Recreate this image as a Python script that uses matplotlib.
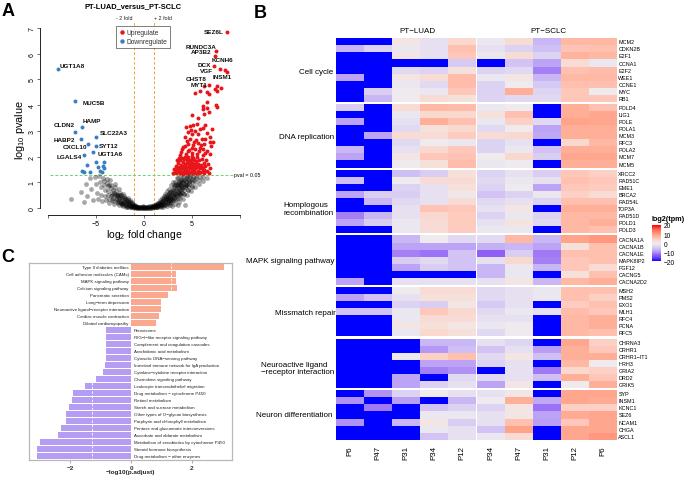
import numpy as np
import matplotlib
matplotlib.use('Agg')
import matplotlib.pyplot as plt
from matplotlib.colors import LinearSegmentedColormap, Normalize
from matplotlib.lines import Line2D
import matplotlib.colorbar as mcolorbar

plt.rcParams['font.family'] = ['Liberation Sans', 'DejaVu Sans']
plt.rcParams['mathtext.fontset'] = 'custom'
plt.rcParams['mathtext.rm'] = 'Liberation Sans'
plt.rcParams['mathtext.it'] = 'Liberation Sans:italic'
plt.rcParams['mathtext.bf'] = 'Liberation Sans:bold'

# ---------------- Panel A data (volcano) ----------------
gray_pts = [(-7.6,0.35),(-6.6,0.62),(-6.3,0.22),(-6.0,0.92),(-5.9,0.45),(-5.6,1.15),(-5.5,0.72),(-5.3,0.3),
    (-5.1,1.22),(-5.0,0.95),(-4.9,0.6),(-4.8,0.36),(-4.7,1.26),(-4.6,1.0),(-4.5,0.8),(-4.45,0.5),(-4.4,0.26),
    (-4.3,1.18),(-4.2,1.05),(-4.15,0.9),(-4.1,0.7),(-4.05,0.48),(-4.0,0.3),(-3.9,1.12),(-3.85,0.96),(-3.8,0.84),
    (-3.75,0.66),(-3.7,0.52),(-3.65,0.36),(-3.6,0.2),(-3.5,1.08),(-3.45,0.9),(-3.4,0.76),(-3.35,0.6),(-3.3,0.5),
    (-3.25,0.4),(-3.2,0.26),(-3.15,0.16),(-3.05,0.95),(-3.0,0.8),(-2.95,0.66),(-2.9,0.55),(-2.85,0.45),(-2.8,0.36),
    (-2.75,0.28),(-2.7,0.2),(-2.65,0.1),(-2.6,0.74),(-2.55,0.6),(-2.5,0.5),(-2.45,0.42),(-2.4,0.35),(-2.35,0.28),
    (-2.3,0.2),(-2.25,0.14),(-2.2,0.08),(-2.15,0.55),(-2.1,0.45),(-2.05,0.37),(-2.0,0.3),(-1.95,0.24),(-1.9,0.18),
    (-1.85,0.12),(-1.8,0.07),(-1.75,0.03),(-1.7,0.4),(-1.65,0.3),(-1.6,0.24),(-1.55,0.18),(-1.5,0.13),(-1.45,0.09),
    (-1.4,0.05),(-1.35,0.02),(-1.3,0.25),(-1.25,0.18),(-1.2,0.13),(-1.15,0.09),(-1.1,0.06),(-1.05,0.03),(-1.0,0.01),
    (-0.95,0.12),(-0.9,0.08),(-0.85,0.05),(-0.8,0.03),(-0.75,0.01),
    (-0.7,0.0),(-0.6,0.02),(-0.5,0.0),(-0.4,0.03),(-0.3,0.01),(-0.2,0.0),(-0.1,0.02),(0.0,0.01),(0.1,0.0),(0.2,0.03),
    (0.3,0.01),(0.4,0.0),(0.5,0.02),(0.6,0.01),(0.7,0.03),(0.8,0.0),(0.9,0.02),(1.0,0.04),(-0.65,0.05),(-0.25,0.05),
    (0.15,0.05),(0.55,0.06),(0.95,0.07),
    (1.1,0.02),(1.15,0.06),(1.2,0.1),(1.25,0.15),(1.3,0.04),(1.35,0.08),(1.4,0.13),(1.45,0.19),(1.5,0.05),(1.55,0.1),
    (1.6,0.16),(1.65,0.23),(1.7,0.3),(1.75,0.07),(1.8,0.13),(1.85,0.2),(1.9,0.27),(1.95,0.35),(2.0,0.05),(2.05,0.1),
    (2.1,0.17),(2.15,0.24),(2.2,0.32),(2.25,0.4),(2.3,0.48),(2.35,0.08),(2.4,0.15),(2.45,0.22),(2.5,0.3),(2.55,0.38),
    (2.6,0.46),(2.65,0.55),(2.7,0.64),(2.75,0.12),(2.8,0.2),(2.85,0.3),(2.9,0.4),(2.95,0.5),(3.0,0.6),(3.05,0.7),
    (3.1,0.8),(3.15,0.9),(3.2,0.16),(3.25,0.3),(3.3,0.45),(3.35,0.56),(3.4,0.66),(3.45,0.76),(3.5,0.86),(3.55,0.96),
    (3.6,1.06),(3.65,0.25),(3.7,0.4),(3.75,0.55),(3.8,0.7),(3.85,0.8),(3.9,0.9),(3.95,1.0),(4.0,1.1),(4.05,1.2),
    (4.1,0.36),(4.15,0.56),(4.2,0.7),(4.25,0.85),(4.3,0.95),(4.35,1.05),(4.4,1.15),(4.45,1.25),(4.5,0.5),(4.55,0.7),
    (4.6,0.86),(4.65,1.0),(4.7,1.1),(4.75,1.2),(4.8,1.28),(4.9,0.65),(4.95,0.85),(5.0,1.0),(5.05,1.12),(5.1,1.22),
    (5.3,0.8),(5.35,1.0),(5.4,1.15),(5.45,1.26),(5.7,0.95),(5.75,1.1),(5.8,1.22),(6.1,1.05),(6.15,1.2),(6.6,1.15),
    (4.3,0.12),(3.5,0.1),(2.9,0.06),(3.3,0.95),(2.6,0.75),(3.0,1.0),(2.2,0.55),(3.9,1.25),(3.4,1.15),(2.8,0.88),
    (-0.5,0.04),(0.3,0.05),(0.7,0.06),(-0.15,0.06),(1.2,0.03),(1.7,0.15),(2.0,0.2),(2.4,0.35),(-1.5,0.22),(-1.9,0.35),
    (-2.3,0.4),(-1.2,0.04),(-0.9,0.02),(1.4,0.02),(1.8,0.05),(2.3,0.25),(2.7,0.35),(3.1,0.5),(3.6,0.6),(4.0,0.75),
    (4.4,0.9),(-1.6,0.1),(-2.0,0.12),(-2.4,0.2),(-2.8,0.5),(-3.2,0.7),(-3.6,0.9),
    (1.3,0.12),(1.5,0.2),(1.6,0.08),(1.8,0.25),(1.9,0.1),(2.0,0.28),(2.1,0.38),(2.2,0.12),(2.3,0.35),(2.4,0.5),
    (2.5,0.18),(2.5,0.42),(2.6,0.3),(2.6,0.58),(2.7,0.45),(2.7,0.22),(2.8,0.62),(2.8,0.38),(2.9,0.28),(2.9,0.7),
    (3.0,0.48),(3.0,0.3),(3.1,0.65),(3.1,0.38),(3.2,0.55),(3.2,0.85),(3.3,0.7),(3.3,0.35),(3.4,0.5),(3.4,0.9),
    (3.5,0.62),(3.5,0.4),(3.6,0.78),(3.6,0.95),(3.7,0.6),(3.7,1.0),(3.8,0.88),(3.8,0.5),(3.9,0.7),(3.9,1.1),
    (4.0,0.9),(4.0,0.6),(4.1,1.0),(4.1,0.8),(4.2,1.1),(4.2,0.55),(4.3,0.8),(4.4,1.0),(4.5,0.9),(4.5,1.15),
    (4.6,0.7),(4.7,0.95),(4.8,1.05),(5.0,0.8),(5.2,1.1),(3.2,1.0),(3.5,1.15),(2.4,0.65),(2.1,0.45),(1.9,0.4),
    (-1.1,0.15),(-1.3,0.08),(-1.5,0.3),(-1.6,0.04),(-1.7,0.2),(-1.8,0.28),(-1.9,0.05),(-2.0,0.4),(-2.1,0.25),
    (-2.2,0.2),(-2.3,0.1),(-2.4,0.5),(-2.5,0.25),(-2.6,0.38),(-2.7,0.5),(-2.8,0.25),(-2.9,0.35),(-3.0,0.5),
    (-3.1,0.6),(-3.3,0.3),(-3.4,0.45),
    (-0.9,0.05),(-0.7,0.03),(-0.55,0.01),(-0.35,0.02),(-0.15,0.01),(0.05,0.03),(0.25,0.01),(0.45,0.03),(0.65,0.0),
    (0.85,0.04),(1.05,0.08),(-1.0,0.07),(1.0,0.1),(-0.8,0.07),(0.8,0.06)]

up_pts = [(8.61,6.84),(7.47,6.12),(7.43,5.93),(7.33,5.54),(7.92,5.41),(8.44,5.38),(8.61,5.28),(7.57,4.76),(7.43,4.63),
    (8.02,4.67),(7.64,4.56),(6.8,4.79),(6.28,4.76),(6.53,4.53),(5.83,4.56),(5.31,4.47),(6.8,4.44),(6.6,4.11),
    (6.18,3.96),(6.53,3.88),(6.11,3.85),(7.5,4.01),(7.64,3.93),(6.8,3.75),(6.28,3.66),(5.03,3.62),
    (4.79,3.18),(5.07,3.23),(4.38,3.14),(5.55,3.27),(6.35,3.23),(5.83,3.07),(4.61,2.97),(5.03,2.88),(5.66,2.88),
    (6.53,2.92),(7.05,3.07),(6.87,2.75),(4.27,2.75),(4.79,2.68),(5.42,2.66),(6.0,2.68),(4.55,2.49),(5.07,2.45),
    (5.66,2.53),(6.28,2.49),(7.22,2.56),(4.1,2.36),(4.72,2.27),(5.31,2.3),(5.83,2.32),(6.6,2.23),(3.85,2.17),
    (4.38,2.1),(4.97,2.14),(5.55,2.1),(6.18,2.06),(6.87,2.1),
    (4.9,3.05),(5.3,3.0),(6.1,3.1),(4.45,2.6),(5.2,2.58),(5.9,2.45),(6.4,2.7),(4.3,2.4),(5.0,2.35),(6.1,2.3),
    (7.0,2.4),(4.6,2.2),(5.7,2.2),(6.4,2.15),(6.9,2.55),(5.6,3.5),(4.0,2.3),(3.7,2.05),
    (3.0,1.35),(3.1,1.5),(3.2,1.4),(3.3,1.62),(3.35,1.36),(3.45,1.5),(3.5,1.75),(3.55,1.42),(3.6,1.6),(3.7,1.35),
    (3.75,1.85),(3.8,1.5),(3.85,1.68),(3.9,1.4),(3.95,1.95),(4.0,1.55),(4.05,1.78),(4.1,1.34),(4.15,1.62),(4.2,1.9),
    (4.25,1.45),(4.3,1.72),(4.35,1.55),(4.4,1.38),(4.45,1.85),(4.5,1.6),(4.55,1.98),(4.6,1.45),(4.65,1.7),(4.7,1.35),
    (4.75,1.82),(4.8,1.55),(4.85,1.66),(4.9,1.4),(4.95,1.92),(5.0,1.5),(5.05,1.75),(5.1,1.35),(5.15,1.62),(5.2,1.88),
    (5.25,1.45),(5.3,1.7),(5.35,1.55),(5.4,1.38),(5.45,1.82),(5.5,1.6),(5.55,1.98),(5.6,1.45),(5.65,1.72),(5.7,1.35),
    (5.75,1.85),(5.8,1.55),(5.9,1.68),(5.95,1.4),(6.0,1.9),(6.1,1.5),(6.2,1.75),(6.3,1.38),(6.4,1.62),(6.5,1.85),
    (6.6,1.45),(6.7,1.7),(6.8,1.36),(6.9,1.55),(3.65,1.95),(4.2,1.5),(4.5,1.75),(4.8,1.88),(5.1,1.95),(5.4,1.58),
    (4.0,1.4),(4.6,1.6),(4.9,1.55),(5.2,1.52),(5.7,1.6),(6.2,1.48),(3.4,1.85),(4.3,2.0),(5.0,2.02),(6.0,1.6)]

down_pts = [(-8.92,5.40),(-7.15,4.17),(-6.49,3.15),(-7.15,2.97),(-6.56,2.68),(-5.03,2.76),(-5.8,2.49),(-5.03,2.42),
    (-6.2,2.06),(-5.28,2.19),(-4.13,1.78),(-5.03,1.80),(-4.3,1.65),(-4.76,1.58),(-4.58,1.45),(-4.13,1.54),
    (-5.97,1.67),(-6.46,1.45),(-6.2,1.39),(-5.6,1.41),(-4.4,1.39)]

gene_labels = ['SEZ6L','RUNDC3A','AP3B2','KCNH6','DCX','VGF','INSM1','CHST8','MYT1',
               'UGT1A8','MUC5B','HAMP','CLDN2','HABP2','SLC22A3','CXCL10','SYT12','LGALS4','UGT1A6']
gene_label_x = [7.29,5.94,5.94,8.18,6.25,6.56,8.13,5.47,5.73,-7.5,-5.21,-5.47,-8.33,-8.28,-3.18,-7.19,-3.70,-7.76,-3.49]
gene_label_y = [6.85,6.30,6.07,5.76,5.60,5.34,5.10,5.02,4.79,5.56,4.12,3.42,3.23,2.68,2.92,2.41,2.45,2.02,2.14]

# ---------------- Panel B data (heatmap) ----------------
sample_labels = ['P6','P47','P31','P34','P12','P34','P47','P31','P12','P6']
group_labels = ['PT\u2212LUAD', 'PT\u2212SCLC']
pathways = ['Cell cycle', 'DNA replication', 'Homplogous\nrecombination', 'MAPK signaling pathway',
            'Missmatch repair', 'Neuroactive ligand\n\u2212receptor interaction', 'Neuron differentiation']
pathway_genes = [
    ['MCM2','CDKN2B','E2F1','CCNA1','E2F2','WEE1','CCNE1','MYC','RB1'],
    ['POLD4','LIG1','POLE','POLA1','MCM3','RFC3','POLA2','MCM7','MCM5'],
    ['XRCC2','RAD51C','EME1','BRCA2','RAD54L','TOP3A','RAD51D','POLD1','POLD3'],
    ['CACNA1A','CACNA1B','CACNA1E','MAPK8IP2','FGF12','CACNG5','CACNA2D2'],
    ['MSH2','PMS2','EXO1','MLH1','RFC4','PCNA','RFC5'],
    ['CHRNA3','CRHR1','CRHR1\u2212IT1','HRH3','GRIA2','DRD2','GRIK5'],
    ['SYP','INSM1','KCNC1','SEZ6','NCAM1','CHGA','ASCL1']]
log2tpm = [
    # Cell cycle
    [-20,-20,1,-2,3,-1,2.5,-7,7,7],
    [-7,-4,-1,-2,6,-2,-4,-6,5.5,6],
    [-20,-20,1,-2,5,-1,2.5,-4,7.5,7],
    [-20,-20,-20,-20,-5,-20,-5.5,-8.5,2.5,-1],
    [-20,-20,-3,-4,2,-4,-3,-11,6,6.5],
    [-8.5,-20,1,2.5,6.5,-1,1,-7,7,7],
    [-20,-20,-1,-3,6.5,-4,0,-5,6,6],
    [-20,-4.5,0,-1,5,-4,8,-3.5,5,0],
    [-20,-7,0,2.5,2,-4,-3,-3,5,5],
    # DNA replication
    [-4.5,-20,2.5,7,6.5,-1,0,-20,8,6],
    [-20,-20,-1,3,3,2,6,-20,8,9],
    [-8.5,-20,-2,8,6,-1,4,-3,9.5,9],
    [-20,-20,-3,2,3,-3,0,-8.5,8,8],
    [-20,-8.5,2.5,2.5,4.5,2.5,3,-8,8,8],
    [-20,-20,-3,0,-1,-4,-2,-20,3,7],
    [-7,-20,-2,3,5,-4,-1,-5.5,8,8],
    [-8.5,-20,1,5,5.5,0,3,-4.5,9,9],
    [-20,-20,0,2,6.5,-1,0,-20,8,8],
    # Homologous recombination
    [-20,-20,-6,-4.5,2,-4,-2,-4.5,5,4],
    [-6,-20,0,2.5,2.5,-3,-1,-2,6,5],
    [-20,-20,-4,-2,2,-4,0,-8.5,5,4.5],
    [-8.5,-4.5,-4.5,-2,0.5,-5.5,-4,-1,4,2.5],
    [-20,-7,-3,-2,2.5,-3,-2,-4,6,6],
    [-20,-20,-2,5.5,5,-2,1,-20,8,8],
    [-11,-7,-2,3,4.5,-4,-1,-4,7,7],
    [-8.5,-4.5,-1,2.5,4.5,-2,1.5,-3,7,8],
    [-20,-20,-1,2.5,4.5,-1,-1,-20,7,6],
    # MAPK
    [-20,-20,-7,0,-3,-3,7,-7,9.5,10.5],
    [-20,-20,-8.5,-8.5,-8.5,-7.5,-7,-8.5,2,6],
    [-20,-20,-11,-12,-5.5,-13,-4.5,-11.5,6,6],
    [-20,-20,-4.5,-3,-5.5,-2,3,-11,5,6],
    [-20,-20,-8.5,-4.5,-5.5,-7,-1,-7,5,2.5],
    [-20,-20,-20,-20,-20,-7,-1,-20,2,6],
    [-8.5,-20,-2,-2,-2,-2,1,-7,7,8],
    # Mismatch repair
    [-20,-20,0,2.5,2.5,-3,-2,-1,6,6],
    [-8.5,-5.5,-2,2,2,-3,-2,-1,6,4],
    [-20,-20,-4,-4.5,1,-5,-2,-20,4.5,6],
    [-5.5,-5.5,-1,5,3,-3,-1,-2,6.5,5],
    [-20,-20,-1,2.5,2.5,-2,-2,-20,7,8],
    [-20,-20,1,2,1,-1,0,-20,7,8],
    [-20,-20,-1,3,2,-3,0,-20,7,6],
    # Neuroactive ligand-receptor interaction
    [-20,-20,-20,-7,-7,-2,-3.5,-20,9,4],
    [-20,-20,-20,-9.5,-6,-5.5,-2,-9,8,5],
    [-20,-20,-1,4,6,-3,1,-6,8,8],
    [-20,-20,-20,-8.5,-8.5,-4,-2,-20,7,0],
    [-20,-20,-20,-11,-10,-20,-2,-11.5,3,4],
    [-20,-20,-8.5,-20,-3,-3,-2,-6,8,5],
    [-20,-20,-8.5,-4,-2,-8.5,1,-20,0,8],
    # Neuron differentiation
    [-20,-10,-4,0,-2,-2,1,-20,9,9],
    [-10,-20,-9,-20,-7,0,8,-8,9,8.5],
    [-20,-11.5,-20,-5.5,-4,-4,1,-12,4,4],
    [-20,-20,-20,-1,-1,-2,1,-8.5,8.5,9],
    [-10,-20,-7,1,-4.5,-2,6,-9,5,9],
    [-20,-20,-20,-1,-2,-5.5,9.5,-20,9,9],
    [-20,-20,-20,-5.5,-2,-1,2.5,-20,9,10.5]]

# ---------------- Panel C data (KEGG bars) ----------------
kegg_terms = ['Type II diabetes mellitus','Cell adhesion molecules (CAMs)','MAPK signaling pathway',
    'Calcium signaling pathway','Pancreatic secretion','Long\u2212term depression',
    'Neuroactive ligand\u2212receptor interaction','Cardiac muscle contraction','Dilated cardiomyopathy',
    'Peroxisome','RIG\u2212I\u2212like receptor signaling pathway','Complement and coagulation cascades',
    'Arachidonic acid metabolism','Cytosolic DNA\u2212sensing pathway',
    'Intestinal immune network for IgA production','Cytokine\u2212cytokine receptor interaction',
    'Chemokine signaling pathway','Leukocyte transendothelial migration','Drug metabolism \u2212 cytochrome P450',
    'Retinol metabolism','Starch and sucrose metabolism','Other types of O\u2212glycan biosynthesis',
    'Porphyrin and chlorophyll metabolism','Pentose and glucuronate interconversions',
    'Ascorbate and aldarate metabolism','Metabolism of xenobiotics by cytochrome P450',
    'Steroid hormone biosynthesis','Drug metabolism \u2212 other enzymes']
kegg_values = [3.06,1.47,1.49,1.5,1.23,0.98,0.99,0.93,0.83,
    -0.81,-0.81,-0.81,-0.84,-0.84,-0.87,-0.93,-1.17,-1.52,-1.9,-1.96,-2.06,-2.14,-2.14,-2.32,-2.39,-3.0,-3.11,-3.11]

# ================= drawing =================
W, H = 685, 481
fig = plt.figure(figsize=(W/100, H/100), dpi=100)

def ax_px(x0, y0, x1, y1):
    return fig.add_axes([x0/W, 1 - y1/H, (x1-x0)/W, (y1-y0)/H])

# ---------- Panel A ----------
axA = ax_px(40.3, 21.9, 247.7, 216.2)
axA.set_xlim(-10.8, 10.8)
axA.set_ylim(-0.28, 7.28)
g = np.array(gray_pts); u = np.array(up_pts); d = np.array(down_pts)
axA.scatter(g[:,0], g[:,1], s=12, c='black', alpha=0.34, linewidths=0, zorder=2)
axA.scatter(u[:,0], u[:,1], s=8, c='#e8161b', linewidths=0, zorder=3)
axA.scatter(d[:,0], d[:,1], s=8, c='#3a7ec2', linewidths=0, zorder=3)
for xv in (-1, 1):
    axA.axvline(xv, color='#f2a33a', ls=(0, (3, 2)), lw=0.7, zorder=1)
axA.plot([-9.8, 9.27], [1.301, 1.301], color='#6cd36c', ls=(0, (3, 2)), lw=0.7, zorder=1)
axA.text(9.4, 1.301, 'pval = 0.05', fontsize=3.8, ha='left', va='center', clip_on=False)
for name, x, y in zip(gene_labels, gene_label_x, gene_label_y):
    axA.text(x, y, name, fontsize=4.6, fontweight='bold', ha='center', va='center', color='#111111', zorder=4)
for s in ('top', 'right'):
    axA.spines[s].set_visible(False)
axA.spines['left'].set_bounds(0, 7)
axA.spines['bottom'].set_bounds(-10, 10)
for s in ('left', 'bottom'):
    axA.spines[s].set_linewidth(0.6)
axA.set_xticks([-10, -5, 0, 5, 10])
axA.set_xticklabels(['', '\u22125', '0', '5', ''])
axA.set_yticks(range(8))
axA.tick_params(axis='both', length=2, width=0.5, labelsize=5, pad=1.5, color='#333333')
axA.tick_params(axis='y', labelrotation=90)
for t in axA.get_yticklabels():
    t.set_va('center')
leg = axA.legend(handles=[Line2D([], [], marker='o', ls='', color='#e8161b', markersize=2.2, label='Upregulate'),
                          Line2D([], [], marker='o', ls='', color='#3a7ec2', markersize=2.2, label='Downregulate')],
                 loc='upper left', bbox_to_anchor=(116/W, 1-27/H), bbox_transform=fig.transFigure,
                 borderaxespad=0, fontsize=4.8, frameon=True, fancybox=False, edgecolor='#444444',
                 handlelength=0.8, handletextpad=0.3, borderpad=0.45, labelspacing=0.35)
leg.get_frame().set_linewidth(0.6)
for t in leg.get_texts():
    t.set_color('#333333')

# ---------- Panel C ----------
axC = ax_px(29.3, 264, 232, 461)
ypos = np.arange(len(kegg_terms))
cols = ['#f9a98f' if v > 0 else '#b59df4' for v in kegg_values]
axC.barh(ypos, kegg_values, height=0.86, color=cols, zorder=2)
axC.set_xlim(-3.35, 3.32)
axC.set_ylim(len(kegg_terms) - 0.45, -0.55)
for xv in (-1.3, 1.3):
    axC.axvline(xv, color='white', ls=(0, (3, 2)), lw=0.6, zorder=3)
for i, (t, v) in enumerate(zip(kegg_terms, kegg_values)):
    if v > 0:
        axC.text(-0.08, i, t, fontsize=3.2, ha='right', va='center', color='#222222', zorder=4)
    else:
        axC.text(0.08, i, t, fontsize=3.2, ha='left', va='center', color='#222222', zorder=4)
for s in axC.spines.values():
    s.set_color('#b8b8b8')
    s.set_linewidth(0.9)
axC.set_yticks([])
axC.set_xticks([-2, 0, 2])
axC.set_xticklabels(['\u22122', '0', '2'])
axC.tick_params(axis='x', length=2, width=0.6, color='#999999', labelsize=4.6, pad=1.5)
for t in axC.get_xticklabels():
    t.set_fontweight('bold'); t.set_color('#333333')

# ---------- Panel B heatmap ----------
cmap = LinearSegmentedColormap.from_list('bwr_lab', [
    (0.0, '#0000ff'), (0.1, '#6a44fa'), (0.175, '#9060f5'), (0.25, '#b092f5'), (0.325, '#c8b6f5'),
    (0.4, '#dcd2f2'), (0.475, '#ebe7f0'), (0.5, '#eeeaee'), (0.55, '#f6e0da'), (0.6, '#fcd0c4'),
    (0.65, '#ffc0b0'), (0.7, '#ffb098'), (0.75, '#ff9e84'), (0.875, '#ff6a50'), (1.0, '#ff0000')])

hx0, hx1, hy0, hy1 = 336.0, 616.7, 39.3, 440.7
ncol = len(sample_labels)
cgap = 1.4
cw = (hx1 - hx0 - cgap) / ncol
rgap = 2.2
nrows = sum(len(gs) for gs in pathway_genes)
rh = (hy1 - hy0 - rgap * (len(pathway_genes) - 1)) / nrows

xe = [hx0 + j * cw for j in range(6)] + [hx0 + 5 * cw + cgap + j * cw for j in range(6)]
ye = [hy0]
Zrows = []
row_centers = []
vals = np.array(log2tpm, dtype=float)
r = 0
for k, gs in enumerate(pathway_genes):
    for _ in gs:
        row_centers.append(ye[-1] + rh / 2)
        ye.append(ye[-1] + rh)
        rowv = list(vals[r, :5]) + [np.nan] + list(vals[r, 5:])
        Zrows.append(rowv)
        r += 1
    if k < len(pathway_genes) - 1:
        ye.append(ye[-1] + rgap)
        Zrows.append([np.nan] * (ncol + 1))
Z = np.ma.masked_invalid(np.array(Zrows))

axB = ax_px(hx0, hy0, hx1, hy1)
axB.pcolormesh(np.array(xe), np.array(ye), Z, cmap=cmap, vmin=-20, vmax=20, shading='flat')
axB.set_xlim(hx0, hx1)
axB.set_ylim(hy1, hy0)
axB.axis('off')

# colorbar
cax = ax_px(652.3, 226, 661, 262.3)
cb = mcolorbar.ColorbarBase(cax, cmap=cmap, norm=Normalize(-20, 20), ticks=[20, 10, 0, -10, -20])
cb.outline.set_visible(False)
cax.tick_params(labelsize=4.8, length=0, pad=2)

# ---------- overlay text (pixel coords) ----------
ov = fig.add_axes([0, 0, 1, 1], zorder=10)
ov.set_xlim(0, W); ov.set_ylim(H, 0); ov.axis('off')

ov.text(2, 11, 'A', fontsize=13, fontweight='bold', ha='left', va='center')
ov.text(254, 13, 'B', fontsize=13, fontweight='bold', ha='left', va='center')
ov.text(1, 258, 'C', fontsize=13, fontweight='bold', ha='left', va='center')

ov.text(133, 7, 'PT-LUAD_versus_PT-SCLC', fontsize=5.4, fontweight='bold', ha='center', va='center')
ov.text(133, 18, '- 2 fold', fontsize=3.9, ha='right', va='center', color='#222222')
ov.text(154.5, 18, '+ 2 fold', fontsize=3.9, ha='left', va='center', color='#222222')
ov.text(144, 235, 'log$_2$ fold change', fontsize=7.5, ha='center', va='center')
ov.text(20, 130, 'log$_{10}$ pvalue', fontsize=7.8, ha='center', va='center', rotation=90)

ov.text(130.5, 473, '\u2212log10(p.adjust)', fontsize=4.6, fontweight='bold', ha='center', va='center',
        color='#222222')

col_centers = [(xe[j] + xe[j + 1]) / 2 for j in range(5)] + [(xe[j] + xe[j + 1]) / 2 for j in range(6, 11)]
for cx, lab in zip(col_centers, sample_labels):
    ov.text(cx, 446, lab, fontsize=5.7, rotation=90, ha='center', va='top')
ov.text(417, 31.7, group_labels[0], fontsize=5.8, ha='center', va='center')
ov.text(548, 31.7, group_labels[1], fontsize=5.8, ha='center', va='center')

gi = 0
for gs in pathway_genes:
    for gname in gs:
        ov.text(618.3, row_centers[gi], gname, fontsize=3.85, ha='left', va='center')
        gi += 1

path_label_pos = [(333, 72.7), (334, 138), (334, 209.6), (334, 261.3), (335.5, 313.7), (334, 368.7), (332, 416)]
for name, (px, py) in zip(pathways, path_label_pos):
    ov.text(px, py, name, fontsize=5.8, ha='right', va='center', multialignment='left', linespacing=1.05)

ov.text(652, 220, 'log2(tpm)', fontsize=5.2, fontweight='bold', ha='left', va='center')

fig.savefig('out.png', dpi=100)
